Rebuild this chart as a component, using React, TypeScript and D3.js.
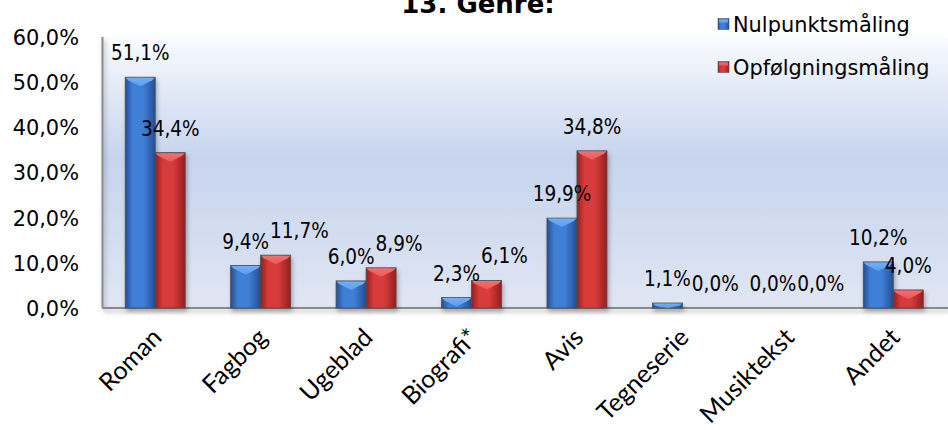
import React, { useEffect, useRef } from 'react';
import * as d3 from 'd3';

const title = '13. Genre:';
const categories = ['Roman', 'Fagbog', 'Ugeblad', 'Biografi*', 'Avis', 'Tegneserie', 'Musiktekst', 'Andet'];
const nulpunkt = [51.1, 9.4, 6.0, 2.3, 19.9, 1.1, 0.0, 10.2];
const opfoelgning = [34.4, 11.7, 8.9, 6.1, 34.8, 0.0, 0.0, 4.0];
const seriesNames = ['Nulpunktsmåling', 'Opfølgningsmåling'];
const yTicks = [0, 10, 20, 30, 40, 50, 60];

const W = 948;
const H = 430;

export default function App() {
  const ref = useRef<SVGSVGElement | null>(null);

  useEffect(() => {
    const svg = d3.select(ref.current);
    svg.selectAll('*').remove();

    const left = 102.5, right = 946, top = 37, bottom = 308;
    const x = d3.scaleBand<string>().domain(categories).range([left, right]);
    const bw = x.bandwidth();
    const barW = 30;
    const x1 = d3.scaleBand<number>().domain([0, 1]).range([bw / 2 - barW, bw / 2 + barW]);
    const y = d3.scaleLinear().domain([0, 60]).range([bottom, top]);
    const loc = d3.formatLocale({ decimal: ',', thousands: '.', grouping: [3], currency: ['', ''] });
    const fmt = (v: number) => loc.format('.1f')(v) + '%';

    const defs = svg.append('defs');
    const bg = defs.append('linearGradient').attr('id', 'bg').attr('x1', 0).attr('y1', 0).attr('x2', 0).attr('y2', 1);
    bg.append('stop').attr('offset', '0%').attr('stop-color', '#f9fbfe');
    bg.append('stop').attr('offset', '45%').attr('stop-color', '#c6d4ed');
    bg.append('stop').attr('offset', '100%').attr('stop-color', '#e0e6f3');

    const pal = [
      { dark: '#234f96', mid: '#3f7fd6', light: '#6fb0f2', cap: '#5a9ff0' },
      { dark: '#922020', mid: '#d83a3a', light: '#f07070', cap: '#e85a5a' },
    ];
    pal.forEach((p, i) => {
      const g = defs.append('linearGradient').attr('id', 'body' + i).attr('x1', 0).attr('y1', 0).attr('x2', 1).attr('y2', 0);
      g.append('stop').attr('offset', '0%').attr('stop-color', p.dark);
      g.append('stop').attr('offset', '25%').attr('stop-color', p.mid);
      g.append('stop').attr('offset', '60%').attr('stop-color', p.mid);
      g.append('stop').attr('offset', '100%').attr('stop-color', p.dark);
      const c = defs.append('linearGradient').attr('id', 'cap' + i).attr('x1', 0).attr('y1', 0).attr('x2', 0).attr('y2', 1);
      c.append('stop').attr('offset', '0%').attr('stop-color', p.light);
      c.append('stop').attr('offset', '100%').attr('stop-color', p.cap);
    });
    const f = defs.append('filter').attr('id', 'sh').attr('x', '-20%').attr('y', '-20%').attr('width', '140%').attr('height', '140%');
    f.append('feDropShadow').attr('dx', 1.5).attr('dy', 3).attr('stdDeviation', 2).attr('flood-color', '#000').attr('flood-opacity', 0.3);

    svg.append('rect').attr('width', W).attr('height', H).attr('fill', '#ffffff');
    svg.append('rect').attr('x', left).attr('y', top).attr('width', W - left).attr('height', bottom - top).attr('fill', 'url(#bg)');

    // Title (clipped at top as in reference)
    svg.append('text').attr('x', 478).attr('y', 13).attr('text-anchor', 'middle')
      .attr('font-family', 'DejaVu Sans').attr('font-weight', 'bold').attr('font-size', 26).attr('fill', '#000').text(title);

    // axes
    const ax = svg.append('g').attr('filter', 'url(#sh)');
    ax.append('line').attr('x1', left).attr('x2', W).attr('y1', bottom).attr('y2', bottom).attr('stroke', '#8a8a8a').attr('stroke-width', 2);
    ax.append('line').attr('x1', left).attr('x2', left).attr('y1', top).attr('y2', bottom).attr('stroke', '#8a8a8a').attr('stroke-width', 2);

    // y tick labels
    svg.append('g').selectAll('g').data(yTicks).join('g')
      .attr('transform', (d) => `translate(79,${y(d)}) scale(0.95,1)`)
      .append('text').attr('text-anchor', 'end').attr('dy', '0.36em')
      .attr('font-family', 'DejaVu Sans').attr('font-size', 22).attr('fill', '#000')
      .text((d) => loc.format('.1f')(d) + '%');

    // bars
    const seriesData = [nulpunkt, opfoelgning];
    seriesData.forEach((vals, si) => {
      const g = svg.append('g').attr('filter', 'url(#sh)');
      vals.forEach((v, ci) => {
        if (v <= 0) return;
        const x0 = (x(categories[ci]) as number) + (x1(si) as number);
        const y0 = y(v);
        const h = bottom - y0;
        g.append('rect').attr('x', x0).attr('y', y0).attr('width', barW).attr('height', h)
          .attr('fill', `url(#body${si})`).attr('stroke', '#4d4d4d').attr('stroke-width', 0.8);
        const ch = Math.min(9, h);
        const inset = Math.min(3, h / 2);
        g.append('polygon')
          .attr('points', [
            [x0 + 0.5, y0 + 0.5], [x0 + barW - 0.5, y0 + 0.5], [x0 + barW - inset, y0 + inset],
            [x0 + barW / 2, y0 + ch], [x0 + inset, y0 + inset],
          ].map((p) => p.join(',')).join(' '))
          .attr('fill', `url(#cap${si})`);
      });
    });

    // data labels
    const sx = 0.88;
    type Box = { l: number; r: number; b: number };
    const blueBoxes: Box[] = [];
    seriesData.forEach((vals, si) => {
      const g = svg.append('g');
      vals.forEach((v, ci) => {
        const cx = (x(categories[ci]) as number) + (x1(si) as number) + barW / 2;
        const base = y(v) - 17;
        const lg = g.append('g').attr('transform', `translate(${cx},${base}) scale(${sx},1)`);
        const t = lg.append('text').attr('text-anchor', 'middle')
          .attr('font-family', 'DejaVu Sans').attr('font-size', 21).attr('fill', '#000').text(fmt(v));
        const w = (t.node() as SVGTextElement).getComputedTextLength() * sx;
        if (si === 0) {
          blueBoxes[ci] = { l: cx - w / 2, r: cx + w / 2, b: base };
        } else {
          const bb = blueBoxes[ci];
          const l = cx - w / 2;
          if (bb && l < bb.r && Math.abs(bb.b - base) < 20) {
            const ncx = bb.r + 1 + w / 2;
            lg.attr('transform', `translate(${ncx},${base}) scale(${sx},1)`);
          }
        }
      });
    });

    // category labels
    svg.append('g').selectAll('text').data(categories).join('text')
      .attr('transform', (d) => `translate(${(x(d) as number) + bw / 2 + 8},339) rotate(-45)`)
      .attr('text-anchor', 'end').attr('font-family', 'Lato').attr('font-size', 25).attr('fill', '#000')
      .text((d) => d);

    // legend
    const lgd = svg.append('g');
    seriesNames.forEach((name, i) => {
      const cy = 24 + i * 43;
      lgd.append('rect').attr('x', 718).attr('y', cy - 5.5).attr('width', 11).attr('height', 11)
        .attr('fill', `url(#body${i})`).attr('stroke', '#555').attr('stroke-width', 0.6);
      lgd.append('rect').attr('x', 719).attr('y', cy - 4.5).attr('width', 9).attr('height', 3).attr('fill', `url(#cap${i})`);
      lgd.append('g').attr('transform', `translate(733,${cy}) scale(0.95,1)`)
        .append('text').attr('dy', '0.36em').attr('font-family', 'DejaVu Sans').attr('font-size', 22).attr('fill', '#000').text(name);
    });
  }, []);

  return (
    <svg ref={ref} width={W} height={H} style={{ position: 'absolute', left: 0, top: 0, display: 'block' }} />
  );
}
